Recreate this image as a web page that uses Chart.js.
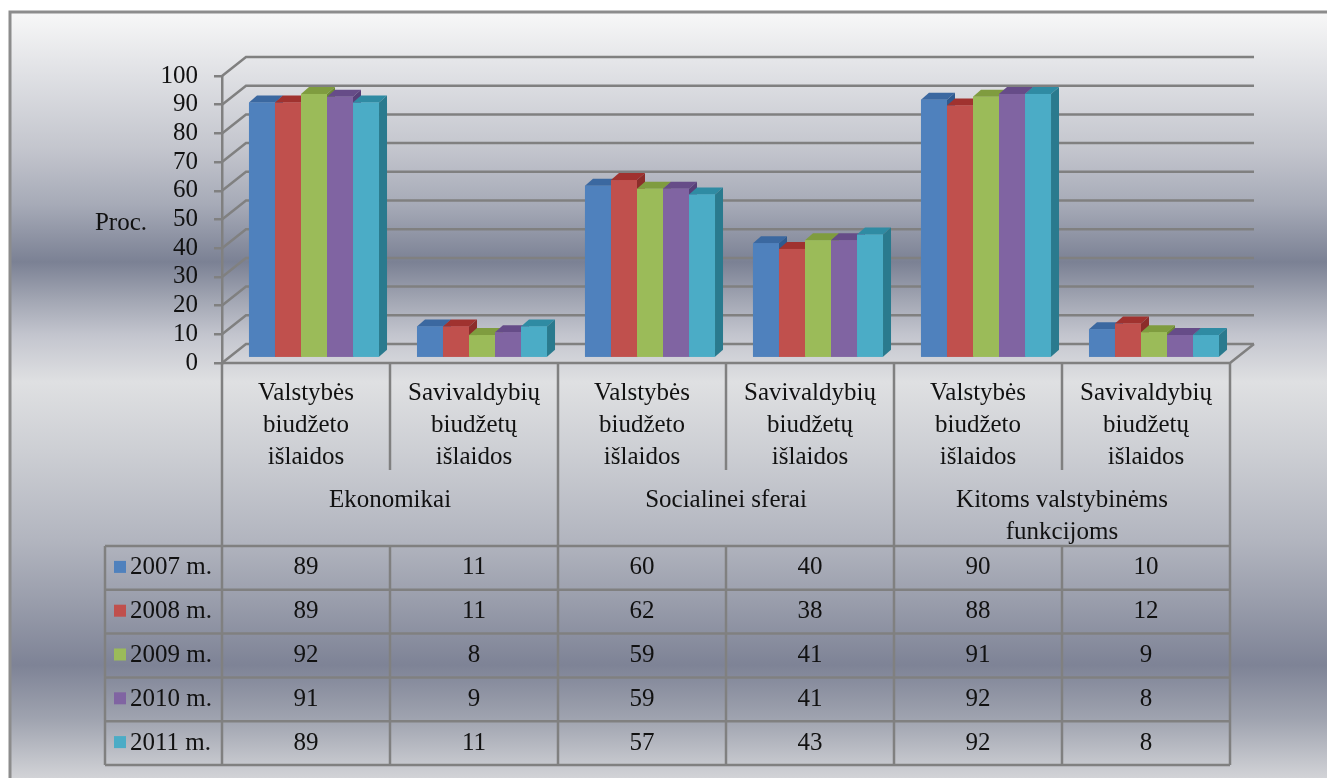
<!DOCTYPE html>
<html lang="lt">
<head>
<meta charset="UTF-8">
<title>Išlaidų struktūra</title>
<script src="https://cdn.jsdelivr.net/npm/chart.js"></script>
<style>
  body { margin: 0; background: #fff; }
  .wrap { width: 1327px; height: 778px; position: relative; }
</style>
</head>
<body>
<div class="wrap"><canvas id="chart"></canvas></div>
<script>
// categories (multi-line) and the groups they belong to
const categories = [
  ['Valstybės', 'biudžeto', 'išlaidos'],
  ['Savivaldybių', 'biudžetų', 'išlaidos'],
  ['Valstybės', 'biudžeto', 'išlaidos'],
  ['Savivaldybių', 'biudžetų', 'išlaidos'],
  ['Valstybės', 'biudžeto', 'išlaidos'],
  ['Savivaldybių', 'biudžetų', 'išlaidos']
];
const groups = [['Ekonomikai'], ['Socialinei sferai'], ['Kitoms valstybinėms', 'funkcijoms']];

const years = ['2007 m.', '2008 m.', '2009 m.', '2010 m.', '2011 m.'];
const values2007 = [89, 11, 60, 40, 90, 10];
const values2008 = [89, 11, 62, 38, 88, 12];
const values2009 = [92, 8, 59, 41, 91, 9];
const values2010 = [91, 9, 59, 41, 92, 8];
const values2011 = [89, 11, 57, 43, 92, 8];
const seriesValues = [values2007, values2008, values2009, values2010, values2011];

const yAxisTitle = 'Proc.';

// face colours: front, top, side
const frontColors = ['#4f81bd', '#c0504d', '#9bbb59', '#8064a2', '#4bacc6'];
const topColors   = ['#3b68a0', '#a0322f', '#7f9c3f', '#664c88', '#2f8ba3'];
const sideColors  = ['#2f5a8f', '#8c2d2a', '#6d8a34', '#573f78', '#2a7a8e'];

const FONT = "25px 'Liberation Serif', 'Times New Roman', serif";
const LINE = '#808080';
const WALL_DX = 24, WALL_DY = 19;     // back wall offset
const BAR_DX = 8, BAR_DY = 7;         // bar depth
const SHIFT_X = 8, SHIFT_Y = -5;      // bars sit half way into the floor

const backdrop = {
  id: 'backdrop',
  beforeDraw(chart) {
    const ctx = chart.ctx, W = chart.width, H = chart.height;
    ctx.save();
    ctx.fillStyle = '#fff';
    ctx.fillRect(0, 0, W, H);
    const g = ctx.createLinearGradient(0, 12, 0, H);
    const stops = [
      [14, '#f7f7f7'], [60, '#e5e6e9'], [150, '#c3c5cd'], [205, '#a6aab7'],
      [262, '#7b8194'], [300, '#a2a6b3'], [335, '#c3c5ce'], [382, '#dfe0e2'],
      [450, '#cdcfd4'], [540, '#b2b5bf'], [600, '#9a9eac'], [665, '#7e8396'],
      [720, '#a0a4b0'], [778, '#d2d3d7']
    ];
    stops.forEach(([y, c]) => g.addColorStop((y - 12) / (H - 12), c));
    ctx.fillStyle = g;
    ctx.fillRect(10, 12, W - 10, H - 12);
    ctx.strokeStyle = '#8c8c8c';
    ctx.lineWidth = 3;
    ctx.beginPath();
    ctx.moveTo(10, H); ctx.lineTo(10, 12); ctx.lineTo(W, 12);
    ctx.stroke();

    // side wall, back wall grid and floor
    const { left, right } = chart.chartArea;
    const ys = chart.scales.y;
    ctx.strokeStyle = LINE;
    ctx.lineWidth = 2.5;
    ys.ticks.forEach(t => {
      const py = ys.getPixelForValue(t.value);
      ctx.beginPath();
      ctx.moveTo(left, py);
      ctx.lineTo(left + WALL_DX, py - WALL_DY);
      ctx.lineTo(right + WALL_DX, py - WALL_DY);
      ctx.stroke();
    });
    const y0 = ys.getPixelForValue(0);
    ctx.beginPath();
    ctx.moveTo(left, y0); ctx.lineTo(right, y0); ctx.lineTo(right + WALL_DX, y0 - WALL_DY);
    ctx.stroke();

    ctx.fillStyle = '#111';
    ctx.font = FONT;
    ctx.textAlign = 'center';
    ctx.textBaseline = 'middle';
    ctx.fillText(yAxisTitle, 121, 223);
    ctx.restore();
  }
};

const bars3d = {
  id: 'bars3d',
  beforeDatasetsDraw(chart) {
    chart.ctx.save();
    chart.ctx.translate(SHIFT_X, SHIFT_Y);
  },
  afterDatasetsDraw(chart) {
    const ctx = chart.ctx;
    const metas = chart.data.datasets.map((d, i) => chart.getDatasetMeta(i));
    for (let c = 0; c < categories.length; c++) {
      metas.forEach((meta, i) => {
        const { x, y, base, width } = meta.data[c].getProps(['x', 'y', 'base', 'width'], true);
        const l = x - width / 2, r = x + width / 2;
        ctx.fillStyle = topColors[i];
        ctx.beginPath();
        ctx.moveTo(l, y); ctx.lineTo(l + BAR_DX, y - BAR_DY);
        ctx.lineTo(r + BAR_DX, y - BAR_DY); ctx.lineTo(r, y);
        ctx.closePath(); ctx.fill();
        ctx.fillStyle = sideColors[i];
        ctx.beginPath();
        ctx.moveTo(r, y); ctx.lineTo(r + BAR_DX, y - BAR_DY);
        ctx.lineTo(r + BAR_DX, base - BAR_DY); ctx.lineTo(r, base);
        ctx.closePath(); ctx.fill();
        ctx.fillStyle = frontColors[i];
        ctx.fillRect(l, y, width, base - y);
      });
    }
    ctx.restore();
  }
};

// data table under the plot
const dataTable = {
  id: 'dataTable',
  afterDraw(chart) {
    const ctx = chart.ctx, xs = chart.scales.x, ys = chart.scales.y;
    const n = categories.length;
    const colW = (xs.right - xs.left) / n;
    const top = ys.getPixelForValue(0);
    const subBottom = top + 107;
    const rowsTop = top + 183;
    const rowH = 43.8;
    const bottom = rowsTop + rowH * years.length;
    const legendLeft = 105;

    ctx.save();
    ctx.strokeStyle = LINE;
    ctx.lineWidth = 2.5;
    const line = (x1, y1, x2, y2) => { ctx.beginPath(); ctx.moveTo(x1, y1); ctx.lineTo(x2, y2); ctx.stroke(); };
    for (let c = 0; c <= n; c++) {
      const x = xs.left + c * colW;
      if (c % 2 === 0) {
        line(x, top, x, bottom);
      } else {
        line(x, top, x, subBottom);
        line(x, rowsTop, x, bottom);
      }
    }
    line(legendLeft, rowsTop, legendLeft, bottom);
    for (let r = 0; r <= years.length; r++) {
      const y = rowsTop + r * rowH;
      line(legendLeft, y, xs.right, y);
    }

    ctx.fillStyle = '#111';
    ctx.font = FONT;
    ctx.textAlign = 'center';
    ctx.textBaseline = 'middle';
    categories.forEach((lines, c) => {
      const cx = xs.getPixelForValue(c);
      lines.forEach((t, k) => ctx.fillText(t, cx, top + 30 + k * 32));
    });
    groups.forEach((lines, g) => {
      const cx = xs.left + (g * 2 + 1) * colW;
      lines.forEach((t, k) => ctx.fillText(t, cx, top + 137 + k * 32));
    });
    seriesValues.forEach((vals, r) => {
      const cy = rowsTop + r * rowH + rowH / 2;
      vals.forEach((v, c) => ctx.fillText(String(v), xs.getPixelForValue(c), cy));
      ctx.fillStyle = frontColors[r];
      ctx.fillRect(legendLeft + 9, cy - 7, 12, 12);
      ctx.fillStyle = '#111';
      ctx.textAlign = 'left';
      ctx.fillText(years[r], legendLeft + 25, cy);
      ctx.textAlign = 'center';
    });
    ctx.restore();
  }
};

new Chart(document.getElementById('chart'), {
  type: 'bar',
  data: {
    labels: categories,
    datasets: years.map((label, i) => ({
      label,
      data: seriesValues[i],
      backgroundColor: frontColors[i],
      borderWidth: 0,
      categoryPercentage: 0.774,
      barPercentage: 1
    }))
  },
  options: {
    responsive: true,
    maintainAspectRatio: false,
    animation: false,
    layout: { padding: { left: 162, right: 97, top: 76, bottom: 415 } },
    plugins: { legend: { display: false }, tooltip: { enabled: false } },
    scales: {
      x: { display: false },
      y: {
        min: 0,
        max: 100,
        ticks: {
          stepSize: 10,
          autoSkip: false,
          color: '#111',
          padding: 16,
          font: { family: "'Liberation Serif', 'Times New Roman', serif", size: 25 }
        },
        grid: { drawOnChartArea: false, drawTicks: true, tickLength: 8, color: LINE, lineWidth: 2.5 },
        border: { display: true, color: LINE, width: 2.5 },
        afterFit(scale) { scale.width = 60; }
      }
    }
  },
  plugins: [backdrop, bars3d, dataTable]
});
</script>
</body>
</html>
